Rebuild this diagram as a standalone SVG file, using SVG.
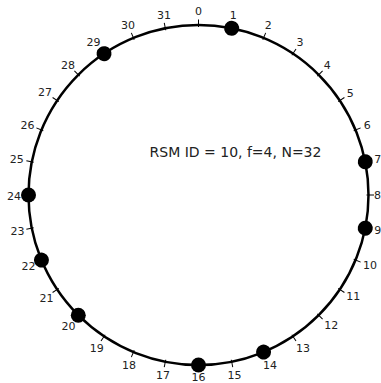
<svg xmlns="http://www.w3.org/2000/svg" xmlns:xlink="http://www.w3.org/1999/xlink" width="381" height="383" viewBox="0 0 381 383">
<style>
.lbl{font-family:"DejaVu Sans",sans-serif;font-size:11px;fill:#222;text-anchor:middle}
.title{font-family:"DejaVu Sans",sans-serif;font-size:14px;fill:#222;text-anchor:middle}
.tick{stroke:#000;stroke-width:1}
.ring{fill:none;stroke:#000;stroke-width:2.5}
.dot{fill:#000}
</style>
<defs>
<line id="t" class="tick" x1="198.5" y1="27" x2="198.5" y2="19.5"/>
<circle id="d" class="dot" cx="198.5" cy="25" r="7.5"/>
</defs>
<rect width="381" height="383" fill="#fff"/>
<g id="connectors">
<circle id="ring" class="ring" cx="198.5" cy="195" r="170"/>
<use xlink:href="#t" transform="rotate(0 198.5 195)"/>
<use xlink:href="#t" transform="rotate(11.25 198.5 195)"/>
<use xlink:href="#t" transform="rotate(22.5 198.5 195)"/>
<use xlink:href="#t" transform="rotate(33.75 198.5 195)"/>
<use xlink:href="#t" transform="rotate(45 198.5 195)"/>
<use xlink:href="#t" transform="rotate(56.25 198.5 195)"/>
<use xlink:href="#t" transform="rotate(67.5 198.5 195)"/>
<use xlink:href="#t" transform="rotate(78.75 198.5 195)"/>
<use xlink:href="#t" transform="rotate(90 198.5 195)"/>
<use xlink:href="#t" transform="rotate(101.25 198.5 195)"/>
<use xlink:href="#t" transform="rotate(112.5 198.5 195)"/>
<use xlink:href="#t" transform="rotate(123.75 198.5 195)"/>
<use xlink:href="#t" transform="rotate(135 198.5 195)"/>
<use xlink:href="#t" transform="rotate(146.25 198.5 195)"/>
<use xlink:href="#t" transform="rotate(157.5 198.5 195)"/>
<use xlink:href="#t" transform="rotate(168.75 198.5 195)"/>
<use xlink:href="#t" transform="rotate(180 198.5 195)"/>
<use xlink:href="#t" transform="rotate(191.25 198.5 195)"/>
<use xlink:href="#t" transform="rotate(202.5 198.5 195)"/>
<use xlink:href="#t" transform="rotate(213.75 198.5 195)"/>
<use xlink:href="#t" transform="rotate(225 198.5 195)"/>
<use xlink:href="#t" transform="rotate(236.25 198.5 195)"/>
<use xlink:href="#t" transform="rotate(247.5 198.5 195)"/>
<use xlink:href="#t" transform="rotate(258.75 198.5 195)"/>
<use xlink:href="#t" transform="rotate(270 198.5 195)"/>
<use xlink:href="#t" transform="rotate(281.25 198.5 195)"/>
<use xlink:href="#t" transform="rotate(292.5 198.5 195)"/>
<use xlink:href="#t" transform="rotate(303.75 198.5 195)"/>
<use xlink:href="#t" transform="rotate(315 198.5 195)"/>
<use xlink:href="#t" transform="rotate(326.25 198.5 195)"/>
<use xlink:href="#t" transform="rotate(337.5 198.5 195)"/>
<use xlink:href="#t" transform="rotate(348.75 198.5 195)"/>
</g>
<g id="n0"><text class="lbl" x="198.5" y="15">0</text></g>
<g id="n1"><use xlink:href="#d" transform="rotate(11.25 198.5 195)"/><text class="lbl" x="233.3" y="18.5">1</text></g>
<g id="n2"><text class="lbl" x="268.3" y="29">2</text></g>
<g id="n3"><text class="lbl" x="300" y="46">3</text></g>
<g id="n4"><text class="lbl" x="327.3" y="68.9">4</text></g>
<g id="n5"><text class="lbl" x="350.3" y="96.5">5</text></g>
<g id="n6"><text class="lbl" x="367.3" y="128.8">6</text></g>
<g id="n7"><use xlink:href="#d" transform="rotate(78.75 198.5 195)"/><text class="lbl" x="377.8" y="162.5">7</text></g>
<g id="n8"><text class="lbl" x="377.5" y="199">8</text></g>
<g id="n9"><use xlink:href="#d" transform="rotate(101.25 198.5 195)"/><text class="lbl" x="377.8" y="233.5">9</text></g>
<g id="n10"><text class="lbl" x="370" y="268.5">10</text></g>
<g id="n11"><text class="lbl" x="353.3" y="300">11</text></g>
<g id="n12"><text class="lbl" x="331.2" y="329">12</text></g>
<g id="n13"><text class="lbl" x="303" y="351.5">13</text></g>
<g id="n14"><use xlink:href="#d" transform="rotate(157.5 198.5 195)"/><text class="lbl" x="270" y="369">14</text></g>
<g id="n15"><text class="lbl" x="234.4" y="379">15</text></g>
<g id="n16"><use xlink:href="#d" transform="rotate(180 198.5 195)"/><text class="lbl" x="198.5" y="380.5">16</text></g>
<g id="n17"><text class="lbl" x="163" y="379">17</text></g>
<g id="n18"><text class="lbl" x="129" y="368.5">18</text></g>
<g id="n19"><text class="lbl" x="96.8" y="352">19</text></g>
<g id="n20"><use xlink:href="#d" transform="rotate(225 198.5 195)"/><text class="lbl" x="68.5" y="330">20</text></g>
<g id="n21"><text class="lbl" x="46.5" y="302">21</text></g>
<g id="n22"><use xlink:href="#d" transform="rotate(247.5 198.5 195)"/><text class="lbl" x="28.5" y="270">22</text></g>
<g id="n23"><text class="lbl" x="17.5" y="234.5">23</text></g>
<g id="n24"><use xlink:href="#d" transform="rotate(270 198.5 195)"/><text class="lbl" x="14" y="200">24</text></g>
<g id="n25"><text class="lbl" x="16.8" y="163.3">25</text></g>
<g id="n26"><text class="lbl" x="27.5" y="128.5">26</text></g>
<g id="n27"><text class="lbl" x="45" y="95.7">27</text></g>
<g id="n28"><text class="lbl" x="68" y="68.5">28</text></g>
<g id="n29"><use xlink:href="#d" transform="rotate(326.25 198.5 195)"/><text class="lbl" x="93.5" y="46">29</text></g>
<g id="n30"><text class="lbl" x="128" y="29">30</text></g>
<g id="n31"><text class="lbl" x="164" y="19">31</text></g>
<text class="title" x="235.5" y="157">RSM ID = 10, f=4, N=32</text>
</svg>
